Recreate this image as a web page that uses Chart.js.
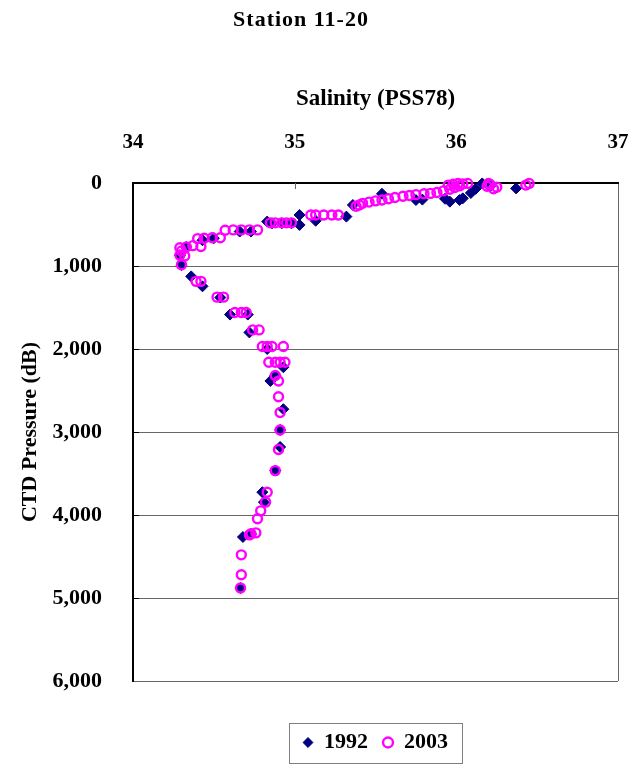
<!DOCTYPE html>
<html>
<head>
<meta charset="utf-8">
<title>Station 11-20</title>
<script src="https://cdn.jsdelivr.net/npm/chart.js@4/dist/chart.umd.min.js"></script>
<style>
  html, body { margin: 0; padding: 0; background: #ffffff; }
  #wrap { position: relative; width: 634px; height: 767px; }
</style>
</head>
<body>
<div id="wrap"><canvas id="c" width="634" height="767"></canvas></div>
<script>
// Salinity profiles, station 11-20
const chartTitle = 'Station 11-20';
const seriesLabels = ['1992', '2003'];
const salinityTicks = [34, 35, 36, 37];
const pressureTicks = [0, 1000, 2000, 3000, 4000, 5000, 6000];

// 1992 cast: salinity (PSS78) and pressure (dB)
const sal1992 = [36.37, 36.16, 36.19, 36.21, 36.12, 36.09, 36.04, 36.02, 35.96, 35.93,
  35.79, 35.75, 35.54, 35.36, 35.32, 35.13, 35.03, 35.03, 34.98, 34.92,
  34.86, 34.83, 34.73, 34.66, 34.50, 34.43, 34.33, 34.29, 34.30, 34.36,
  34.43, 34.54, 34.60, 34.71, 34.72, 34.83, 34.93, 34.88, 34.85, 34.93,
  34.91, 34.91, 34.88, 34.80, 34.81, 34.73, 34.68, 34.665];
const pres1992 = [65, 5, 12, 35, 70, 120, 185, 205, 225, 190,
  200, 205, 130, 265, 405, 455, 385, 505, 485, 485,
  485, 465, 585, 585, 665, 690, 770, 870, 990, 1125,
  1245, 1380, 1585, 1585, 1800, 2000, 2220, 2320, 2385, 2725,
  2975, 3180, 3465, 3725, 3845, 4230, 4265, 4880];

// 2003 cast: salinity (PSS78) and pressure (dB)
const sal2003 = [36.45, 36.43, 36.25, 36.23, 36.21, 36.20, 36.19, 36.07, 36.04, 36.01,
  35.98, 35.95, 36.02, 35.99, 35.96, 35.92, 35.88, 35.84, 35.80, 35.75,
  35.71, 35.67, 35.62, 35.58, 35.54, 35.50, 35.46, 35.42, 35.40, 35.38,
  35.27, 35.23, 35.18, 35.13, 35.10, 34.98, 34.95, 34.92, 34.88, 34.85,
  34.77, 34.72, 34.67, 34.62, 34.57, 34.54, 34.49, 34.44, 34.40, 34.42,
  34.37, 34.33, 34.29, 34.30, 34.29, 34.32, 34.30, 34.39, 34.42, 34.52,
  34.56, 34.63, 34.67, 34.70, 34.74, 34.78, 34.80, 34.83, 34.86, 34.93,
  34.84, 34.88, 34.91, 34.94, 34.88, 34.90, 34.90, 34.91, 34.91, 34.90,
  34.88, 34.83, 34.82, 34.79, 34.77, 34.76, 34.73, 34.72, 34.67, 34.67,
  34.665];
const pres2003 = [5, 25, 50, 70, 20, 5, 40, 5, 10, 5,
  15, 25, 35, 55, 75, 95, 115, 125, 130, 140,
  150, 160, 175, 190, 205, 215, 230, 245, 265, 280,
  385, 385, 385, 385, 385, 480, 480, 480, 480, 480,
  565, 565, 565, 565, 570, 660, 660, 665, 670, 765,
  755, 770, 780, 820, 870, 880, 985, 1185, 1185, 1375,
  1375, 1560, 1560, 1560, 1770, 1770, 1970, 1970, 1970, 1970,
  2160, 2160, 2160, 2160, 2320, 2385, 2575, 2765, 2975, 3210,
  3465, 3725, 3845, 3950, 4045, 4215, 4225, 4240, 4480, 4720,
  4880];

const FONT = "'Liberation Serif', 'Times New Roman', Times, serif";
const GRID = '#666666';

function toPoints(xs, ys) {
  return xs.map((x, i) => ({ x: x, y: ys[i] }));
}

// white page, chart heading
const pagePlugin = {
  id: 'page',
  beforeDraw(chart) {
    const ctx = chart.ctx;
    ctx.save();
    ctx.fillStyle = '#ffffff';
    ctx.fillRect(0, 0, chart.width, chart.height);
    ctx.fillStyle = '#000000';
    ctx.font = 'bold 22px ' + FONT;
    if ('letterSpacing' in ctx) ctx.letterSpacing = '1px';
    ctx.textAlign = 'center';
    ctx.textBaseline = 'middle';
    ctx.fillText(chartTitle, 301, 20);
    ctx.restore();
  }
};

// short tick marks pointing into the plot area
const innerTicksPlugin = {
  id: 'innerTicks',
  beforeDatasetsDraw(chart) {
    const { ctx, chartArea, scales } = chart;
    ctx.save();
    ctx.lineWidth = 1;
    ctx.strokeStyle = GRID;
    salinityTicks.slice(1, -1).forEach(v => {
      const px = Math.round(scales.x.getPixelForValue(v)) + 0.5;
      ctx.beginPath();
      ctx.moveTo(px, chartArea.top);
      ctx.lineTo(px, chartArea.top + 6);
      ctx.stroke();
    });
    ctx.strokeStyle = '#000000';
    pressureTicks.slice(1, -1).forEach(v => {
      const py = Math.round(scales.y.getPixelForValue(v)) + 0.5;
      ctx.beginPath();
      ctx.moveTo(chartArea.left, py);
      ctx.lineTo(chartArea.left + 6, py);
      ctx.stroke();
    });
    ctx.restore();
  }
};

// box around the legend entries
const legendFramePlugin = {
  id: 'legendFrame',
  afterDraw(chart) {
    const lg = chart.legend;
    if (!lg || !lg.legendHitBoxes || !lg.legendHitBoxes.length) return;
    const hb = lg.legendHitBoxes;
    const first = hb[0], last = hb[hb.length - 1];
    const cy = first.top + first.height / 2;
    const l = Math.round(first.left - 14) + 0.5;
    const r = Math.round(last.left + last.width + 14) + 0.5;
    const t = Math.round(cy - 20) + 0.5;
    const ctx = chart.ctx;
    ctx.save();
    ctx.strokeStyle = '#7f7f7f';
    ctx.lineWidth = 1;
    ctx.strokeRect(l, t, r - l, 40);
    ctx.restore();
  }
};

new Chart(document.getElementById('c'), {
  type: 'scatter',
  data: {
    datasets: [
      {
        label: seriesLabels[0],
        data: toPoints(sal1992, pres1992),
        pointStyle: 'rectRot',
        pointRadius: 5.5,
        pointHoverRadius: 5.5,
        backgroundColor: '#000080',
        borderColor: '#000080',
        borderWidth: 1,
        clip: false,
        order: 1
      },
      {
        label: seriesLabels[1],
        data: toPoints(sal2003, pres2003),
        pointStyle: 'circle',
        pointRadius: 4.5,
        pointHoverRadius: 4.5,
        backgroundColor: 'rgba(0,0,0,0)',
        borderColor: '#FF00FF',
        borderWidth: 2.4,
        clip: false,
        order: 0
      }
    ]
  },
  options: {
    responsive: false,
    animation: false,
    devicePixelRatio: 1,
    layout: { padding: { top: 40, left: 0, right: 16, bottom: 3.5 } },
    scales: {
      x: {
        type: 'linear',
        position: 'top',
        min: salinityTicks[0],
        max: salinityTicks[salinityTicks.length - 1],
        ticks: {
          stepSize: 1,
          padding: 27.4,
          color: '#000000',
          font: { family: FONT, size: 21, weight: 'bold' }
        },
        grid: {
          drawTicks: false,
          lineWidth: 1,
          color: c => (c.tick && c.tick.value === salinityTicks[salinityTicks.length - 1]) ? GRID : 'rgba(0,0,0,0)'
        },
        border: { display: true, color: '#000000', width: 2 },
        title: {
          display: true,
          text: 'Salinity (PSS78)',
          color: '#000000',
          font: { family: FONT, size: 23, weight: 'bold' },
          padding: { top: 45.5, bottom: 0 }
        },
        afterFit(s) { s.height = 143; s.paddingLeft = 0; s.paddingRight = 0; }
      },
      y: {
        type: 'linear',
        position: 'left',
        reverse: true,
        min: pressureTicks[0],
        max: pressureTicks[pressureTicks.length - 1],
        ticks: {
          stepSize: 1000,
          padding: 31,
          color: '#000000',
          font: { family: FONT, size: 22, weight: 'bold' },
          callback: v => Number(v).toLocaleString('en-US')
        },
        grid: {
          drawTicks: false,
          lineWidth: 1,
          color: c => (c.tick && c.tick.value === pressureTicks[0]) ? 'rgba(0,0,0,0)' : GRID
        },
        border: { display: true, color: '#000000', width: 2 },
        title: {
          display: true,
          text: 'CTD Pressure (dB)',
          color: '#000000',
          font: { family: FONT, size: 22, weight: 'bold' },
          padding: { top: 16.8, bottom: 0 }
        },
        afterFit(s) { s.width = 133; s.paddingTop = 0; s.paddingBottom = 0; }
      }
    },
    plugins: {
      title: { display: false },
      tooltip: { enabled: false },
      legend: {
        position: 'bottom',
        fullSize: false,
        title: { display: true, text: '', font: { size: 1, lineHeight: 1 }, padding: { top: 34.5, bottom: 0 } },
        labels: {
          usePointStyle: true,
          boxWidth: 10,
          boxHeight: 7,
          padding: 15,
          color: '#000000',
          font: { family: FONT, size: 22, weight: 'bold' },
          sort: (a, b) => a.datasetIndex - b.datasetIndex
        }
      }
    }
  },
  plugins: [pagePlugin, innerTicksPlugin, legendFramePlugin]
});
</script>
</body>
</html>
